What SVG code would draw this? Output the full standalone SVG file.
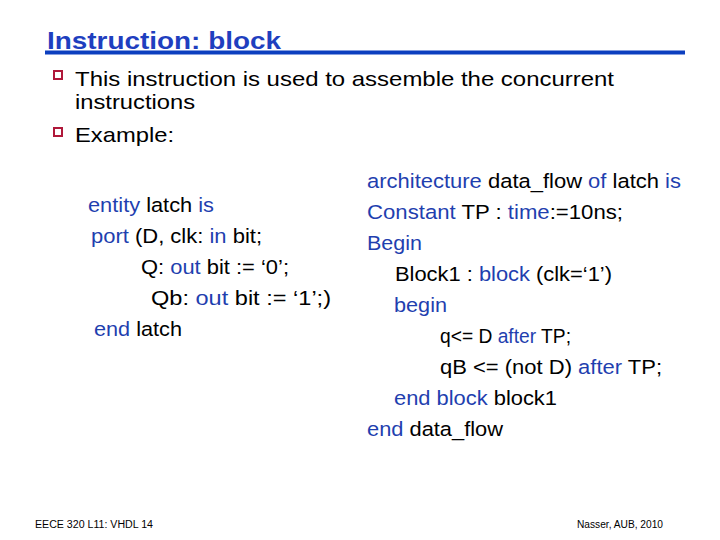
<svg xmlns="http://www.w3.org/2000/svg" width="720" height="540" viewBox="0 0 720 540">
<style>
text{font-family:"Liberation Sans",Arial,sans-serif;fill:#000}
.t{font-size:21px}
.c{font-size:20.5px}
.k{fill:#1f3faf}
.b{fill:#fff;stroke:#b0183a;stroke-width:2}
.f{font-size:10px}
</style>
<rect width="720" height="540" fill="#fff"/>
<g id="title">
<text x="47" y="49" font-size="24" font-weight="bold" fill="#1f3fbf" style="fill:#1f3fbf" textLength="234" lengthAdjust="spacingAndGlyphs">Instruction: block</text>
<rect x="45" y="50.5" width="640" height="4" fill="#0c3fbf"/>
</g>
<g id="bullets">
<rect class="b" x="54" y="71" width="8" height="8"/>
<text class="t" x="75" y="86" textLength="539" lengthAdjust="spacingAndGlyphs">This instruction is used to assemble the concurrent</text>
<text class="t" x="75" y="109" textLength="120" lengthAdjust="spacingAndGlyphs">instructions</text>
<rect class="b" x="54" y="128" width="8" height="8"/>
<text class="t" x="75" y="142" textLength="99" lengthAdjust="spacingAndGlyphs">Example:</text>
</g>
<g id="entity">
<text class="c" x="88" y="212" textLength="126" lengthAdjust="spacingAndGlyphs"><tspan class="k">entity</tspan> latch <tspan class="k">is</tspan></text>
<text class="c" x="91" y="243" textLength="171" lengthAdjust="spacingAndGlyphs"><tspan class="k">port</tspan> (D, clk: <tspan class="k">in</tspan> bit;</text>
<text class="c" x="141" y="274" textLength="148" lengthAdjust="spacingAndGlyphs">Q: <tspan class="k">out</tspan> bit := ‘0’;</text>
<text class="c" x="151" y="305" textLength="180" lengthAdjust="spacingAndGlyphs">Qb: <tspan class="k">out</tspan> bit := ‘1’;)</text>
<text class="c" x="94" y="336" textLength="88" lengthAdjust="spacingAndGlyphs"><tspan class="k">end</tspan> latch</text>
</g>
<g id="architecture">
<text class="c" x="367" y="188" textLength="314" lengthAdjust="spacingAndGlyphs"><tspan class="k">architecture</tspan> data_flow <tspan class="k">of</tspan> latch <tspan class="k">is</tspan></text>
<text class="c" x="367" y="219" textLength="256" lengthAdjust="spacingAndGlyphs"><tspan class="k">Constant</tspan> TP : <tspan class="k">time</tspan>:=10ns;</text>
<text class="c k" x="367" y="250" textLength="55" lengthAdjust="spacingAndGlyphs">Begin</text>
<text class="c" x="395" y="281" textLength="217" lengthAdjust="spacingAndGlyphs">Block1 : <tspan class="k">block</tspan> (clk=‘1’)</text>
<text class="c k" x="394" y="312" textLength="53" lengthAdjust="spacingAndGlyphs">begin</text>
<text class="c" x="440" y="343" textLength="131" lengthAdjust="spacingAndGlyphs">q&lt;= D <tspan class="k">after</tspan> TP;</text>
<text class="c" x="440" y="374" textLength="222" lengthAdjust="spacingAndGlyphs">qB &lt;= (not D) <tspan class="k">after</tspan> TP;</text>
<text class="c" x="394" y="405" textLength="163" lengthAdjust="spacingAndGlyphs"><tspan class="k">end block</tspan> block1</text>
<text class="c" x="367" y="436" textLength="136" lengthAdjust="spacingAndGlyphs"><tspan class="k">end</tspan> data_flow</text>
</g>
<g id="footer">
<text class="f" x="35" y="528" textLength="118" lengthAdjust="spacingAndGlyphs">EECE 320  L11: VHDL  14</text>
<text class="f" x="577" y="528" textLength="86" lengthAdjust="spacingAndGlyphs">Nasser, AUB, 2010</text>
</g>
</svg>
